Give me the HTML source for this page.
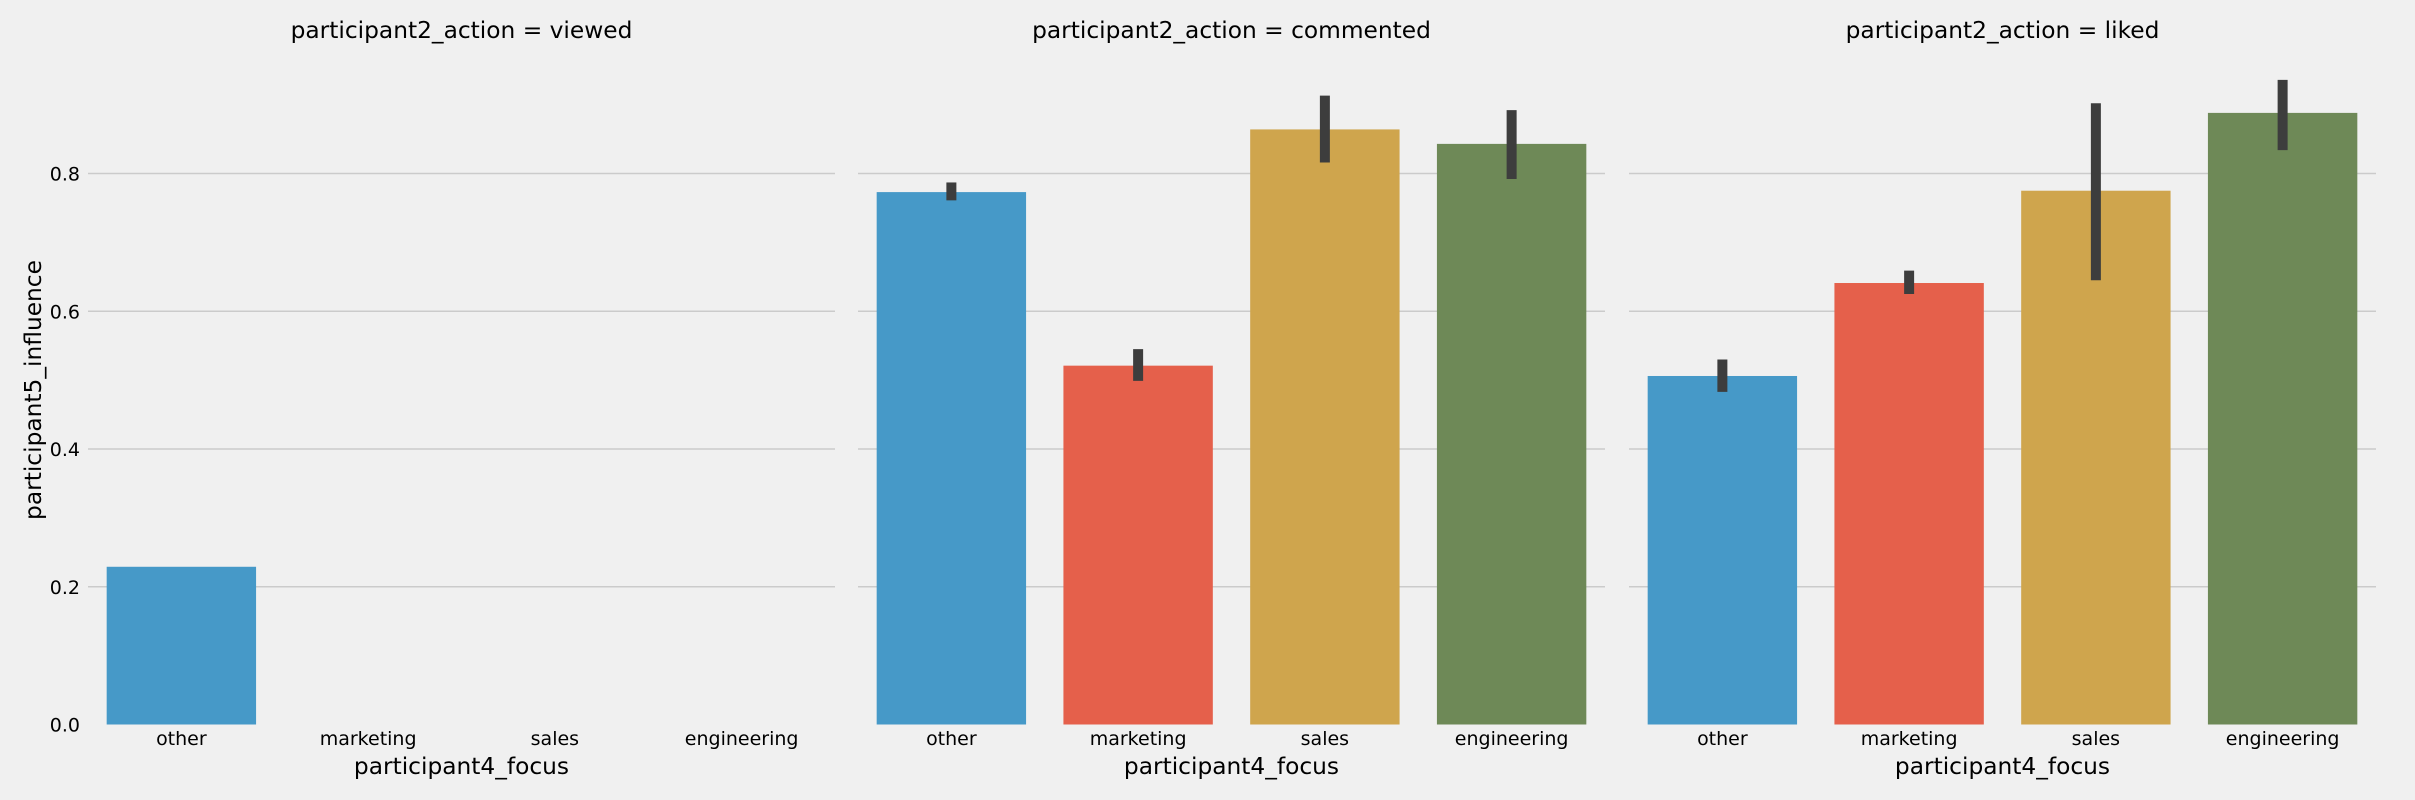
<!DOCTYPE html>
<html><head><meta charset="utf-8"><style>
body{margin:0;background:#f0f0f0;}
svg{display:block;font-family:"DejaVu Sans","Liberation Sans",sans-serif;}
</style></head><body>
<svg id="chart" width="2415" height="800" viewBox="0 0 2415 800" xmlns="http://www.w3.org/2000/svg">
<rect width="2415" height="800" fill="#f0f0f0"/>
</svg>
<script>
const facets = ["viewed", "commented", "liked"];
const categories = ["other", "marketing", "sales", "engineering"];
const viewedValues = [0.229, null, null, null];
const viewedLow = [null, null, null, null];
const viewedHigh = [null, null, null, null];
const commentedValues = [0.773, 0.521, 0.864, 0.843];
const commentedLow = [0.761, 0.499, 0.816, 0.792];
const commentedHigh = [0.787, 0.545, 0.913, 0.892];
const likedValues = [0.506, 0.641, 0.775, 0.888];
const likedLow = [0.483, 0.625, 0.645, 0.834];
const likedHigh = [0.530, 0.659, 0.902, 0.936];
const yTicks = [0.0, 0.2, 0.4, 0.6, 0.8];

const series = [
  [viewedValues, viewedLow, viewedHigh],
  [commentedValues, commentedLow, commentedHigh],
  [likedValues, likedLow, likedHigh]
];
const colors = ["#4699c8", "#e5604b", "#cfa54d", "#6e8957"];
const NS = "http://www.w3.org/2000/svg";
const svg = document.getElementById("chart");
const panelLeft = [88, 858, 1629];
const panelW = 747;
const y0 = 724.5, yTop = 173.5;
function yScale(v){ return y0 - (v / 0.8) * (y0 - yTop); }
function xBand(p, i){ return panelLeft[p] + (i + 0.5) * panelW / categories.length; }
function mk(tag, attrs, parent){
  const e = document.createElementNS(NS, tag);
  for (const k in attrs) e.setAttribute(k, attrs[k]);
  (parent || svg).appendChild(e);
  return e;
}
facets.forEach((f, p) => {
  const g = mk("g", {});
  
  
  yTicks.forEach(t => {
    if (t === 0) return;
    const ln = mk("line", {x1: panelLeft[p], x2: panelLeft[p] + panelW, y1: yScale(t), y2: yScale(t), stroke: "#cbcbcb", "stroke-width": 1.5}, g);
    
    
  });
  if (p === 0) {
    yTicks.forEach(t => {
      const tx = mk("text", {x: 80, y: yScale(t) + 7, "text-anchor": "end", "font-size": 19, fill: "#000"}, g);
      tx.textContent = t.toFixed(1);
      
      
    });
    const yl = mk("text", {x: 0, y: 0, "text-anchor": "middle", "font-size": 23.3, fill: "#000", transform: "translate(41,390) rotate(-90)"}, g);
    yl.textContent = "participant5_influence";
    
    
  }
  const title = mk("text", {x: panelLeft[p] + panelW / 2, y: 38, "text-anchor": "middle", "font-size": 23.3, fill: "#000"}, g);
  title.textContent = "participant2_action = " + f;
  
  
  const [vals, lo, hi] = series[p];
  const bw = 0.8 * panelW / categories.length;
  categories.forEach((c, i) => {
    const cx = xBand(p, i);
    if (vals[i] !== null) {
      const r = mk("rect", {x: cx - bw / 2, y: yScale(vals[i]), width: bw, height: y0 - yScale(vals[i]), fill: colors[i]}, g);
      
      
    }
    if (lo[i] !== null) {
      const e = mk("line", {x1: cx, x2: cx, y1: yScale(lo[i]), y2: yScale(hi[i]), stroke: "#3d3d3d", "stroke-width": 10}, g);
      
      
    }
    const tl = mk("text", {x: cx, y: 745, "text-anchor": "middle", "font-size": 19, fill: "#000"}, g);
    tl.textContent = c;
    
    
  });
  const xl = mk("text", {x: panelLeft[p] + panelW / 2, y: 774, "text-anchor": "middle", "font-size": 23.3, fill: "#000"}, g);
  xl.textContent = "participant4_focus";
  
  
});
</script>
</body></html>
